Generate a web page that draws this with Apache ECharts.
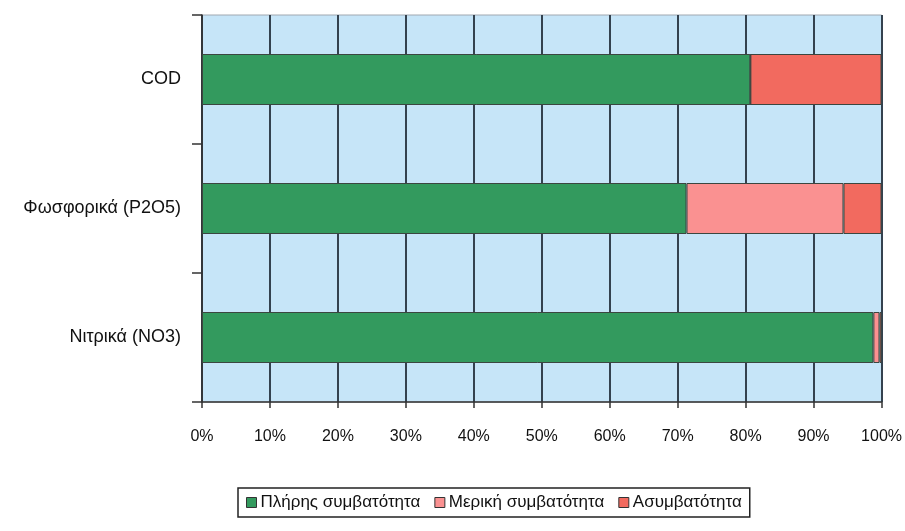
<!DOCTYPE html>
<html>
<head>
<meta charset="utf-8">
<script src="https://cdn.jsdelivr.net/npm/echarts@6/dist/echarts.min.js"></script>
<style>
  html, body { margin: 0; padding: 0; background: #ffffff; }
  #chart { width: 905px; height: 531px; }
</style>
</head>
<body>
<div id="chart"></div>
<script>
// Parameters (top to bottom)
const categories = ['COD', 'Φωσφορικά (P2O5)', 'Νιτρικά (NO3)'];

// Share of samples per compliance level, percent
const fullCompliance = [80.7, 71.3, 98.8];
const partialCompliance = [0, 23.1, 0.9];
const nonCompliance = [19.3, 5.6, 0.3];

const seriesNames = ['Πλήρης συμβατότητα', 'Μερική συμβατότητα', 'Ασυμβατότητα'];
const seriesColors = ['#339a5e', '#fa9191', '#f26a5f'];

const font = 'Liberation Sans, Arial, sans-serif';
const chart = echarts.init(document.getElementById('chart'), null, { renderer: 'canvas' });

const values = [fullCompliance, partialCompliance, nonCompliance];

chart.setOption({
  animation: false,
  backgroundColor: '#ffffff',
  grid: {
    left: 202, right: 22, top: 15, bottom: 129,
    show: true,
    backgroundColor: '#c6e5f8',
    borderColor: '#a0a8b0',
    borderWidth: 1
  },
  legend: {
    left: 238, top: 488,
    orient: 'horizontal',
    icon: 'rect',
    itemWidth: 10, itemHeight: 10,
    itemGap: 14,
    padding: [6, 8, 6, 8],
    borderColor: '#222',
    borderWidth: 1.5,
    textStyle: { fontFamily: font, fontSize: 17, color: '#111', padding: [0, 0, 0, -1] },
    data: seriesNames.map(n => ({ name: n, itemStyle: { borderColor: '#333', borderWidth: 1 } }))
  },
  xAxis: {
    type: 'value',
    min: 0, max: 100, interval: 10,
    axisLine: { show: true, lineStyle: { color: '#333', width: 1.5 } },
    axisTick: { show: true, length: 6, lineStyle: { color: '#333', width: 1.5 } },
    axisLabel: { formatter: '{value}%', fontFamily: font, fontSize: 16, color: '#111', margin: 27 },
    splitLine: { show: true, lineStyle: { color: '#34424f', width: 2 } }
  },
  yAxis: {
    type: 'category',
    inverse: true,
    data: categories,
    axisLine: { show: true, lineStyle: { color: '#333', width: 1.5 } },
    axisTick: { show: true, length: 10, lineStyle: { color: '#333', width: 1.5 } },
    axisLabel: { fontFamily: font, fontSize: 18, color: '#111', margin: 21 }
  },
  series: seriesNames.map((name, i) => ({
    name: name,
    type: 'bar',
    stack: 'total',
    barWidth: 51,
    data: values[i],
    itemStyle: { color: seriesColors[i], borderColor: '#3b4640', borderWidth: 1 }
  }))
});
</script>
</body>
</html>
